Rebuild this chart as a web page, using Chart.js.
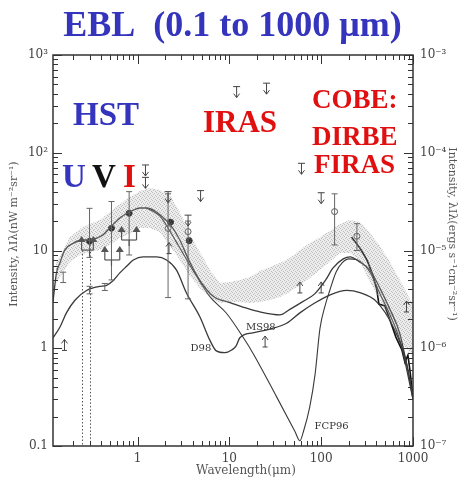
<!DOCTYPE html>
<html><head><meta charset="utf-8">
<script src="https://cdn.jsdelivr.net/npm/chart.js@4.4.0/dist/chart.umd.min.js"></script>
<style>html,body{margin:0;padding:0;background:#fff}#wrap{width:465px;height:481px;position:relative}</style>
</head><body><div id="wrap"><canvas id="c" width="465" height="481"></canvas></div>
<script>
// ---------------- data (wavelength in micron, intensity in nW m^-2 sr^-1) ----------------
const xTickValues = [1, 10, 100, 1000];
const xTickLabels = ['1', '10', '100', '1000'];
const yTickValues = [0.1, 1, 10, 100, 1000];
const yTickLabels = ['0.1', '1', '10', '10²', '10³'];
const y2TickValues = [1e-7, 1e-6, 1e-5, 1e-4, 1e-3];
const y2TickLabels = ['10⁻⁷', '10⁻⁶', '10⁻⁵', '10⁻⁴', '10⁻³'];

const bandWave  = [0.129,0.143,0.183,0.235,0.302,0.388,0.499,0.641,0.824,1.06,1.36,1.75,2.25,2.89,3.71,4.77,6.13,7.88,10.1,13.0,16.7,21.5,27.6,35.5,45.6,58.6,75.4,96.9,124,160,206,264,340,437,561,720,1000];
const bandUpper = [7.64,8.79,13.7,16.6,18.7,20.5,24.8,29.9,35.3,40.6,43.6,41.6,37.0,24.8,14.8,9.66,6.33,4.65,4.76,4.99,5.36,6.18,6.79,7.46,8.39,10.1,11.9,13.7,15.8,18.7,20.5,19.6,15.1,11.1,7.64,4.99,2.77];
const bandLower = [4.44,5.36,7.64,9.0,9.66,10.1,11.4,13.4,14.8,17.0,17.0,15.5,11.1,8.0,5.48,4.13,3.35,2.90,2.97,2.97,2.90,2.97,3.12,3.35,3.76,4.44,5.24,6.33,7.64,9.44,9.44,7.64,4.76,3.12,1.95,1.21,0.81];

const upperWave = [0.12,0.131,0.143,0.161,0.2,0.255,0.3,0.358,0.419,0.5,0.641,0.824,1.06,1.25,1.61,1.75,2.25,2.89,3.45,4.4,5.7,6.95,9.4,14,21.5,35.5,45.6,63,85,112,134,174,206,264,340,437,561,720,1000];
const upperInt  = [3.0,5.9,7.5,10.1,11.9,12.8,12.8,13.4,14.4,17.1,21.5,24.8,27.2,27.2,24.8,23.2,18.6,12.8,8.8,5.6,3.94,3.3,3.0,2.64,2.35,2.19,2.5,3.0,3.6,5.0,6.6,8.2,8.6,7.6,6.3,4.1,2.5,1.4,0.32];

const d98Wave = [0.12,0.143,0.168,0.208,0.278,0.388,0.46,0.54,0.641,0.76,0.9,1.15,1.61,2.07,2.66,3.4,4.77,6.13,7.2,8.9,10.6,11.8,13.0,18,27.6,42,58.6,85,124,190,264,400,610,850,1000];
const d98Int  = [1.28,1.65,2.3,3.1,3.9,4.3,4.4,4.9,5.9,6.9,8.0,8.6,8.6,8.0,6.3,3.7,2.1,1.21,0.94,0.90,0.96,1.05,1.28,1.44,1.57,1.8,2.3,2.9,3.5,3.9,3.7,3.0,1.65,0.71,0.30];

const fcp96Wave = [1.25,1.75,2.66,4.0,6.13,9.3,14,18.2,32.6,52,58.6,64,75,86,97,110,124,145,170,200,240,300,340,437,561,720,1000];
const fcp96Int  = [27.2,22.5,12.1,6.3,3.37,2.28,1.31,0.88,0.32,0.14,0.113,0.14,0.25,0.55,1.6,2.7,3.9,6.0,7.5,8.2,8.1,7.0,6.0,3.6,2.2,1.2,0.30];

const firasWave = [214,264,315,366,404,425,494,561,651,757,816,880,925,1000];
const firasInt  = [13.7,10.6,8.0,5.6,3.94,2.84,2.71,1.95,1.30,0.96,0.72,0.85,0.60,0.31];

const filledWave = [0.3, 0.52, 0.81, 2.29, 3.65];
const filledInt  = [12.4, 16.9, 24, 19.5, 12.6];
const openWave = [2.15, 3.55, 140, 245];
const openInt  = [16.8, 15.6, 25, 14];

const errWave = [0.3, 0.52, 0.81, 2.15, 3.55, 140, 245, 0.155, 0.3, 0.44];
const errLow  = [8.5, 5, 9, 3.3, 3.2, 11.4, 10, 4.7, 3.6, 3.9];
const errHigh = [27, 31.7, 40, 38, 20, 38, 18.8, 6.0, 4.3, 4.6];

const upperLimWave = [1.22, 1.22, 2.15, 3.55, 4.86, 12, 25.4, 61, 100];
const upperLimInt  = [75, 56, 40, 23, 41, 475, 515, 78, 39];

const lowerLimWave = [0.16, 2.2, 24.5, 58.6, 100, 850];
const lowerLimInt  = [0.95, 9.3, 1.03, 3.68, 3.68, 2.35];

const groupLeft   = [0.246, 0.44, 0.67];
const groupRight  = [0.33, 0.64, 0.975];
const groupCenter = [0.3, 0.52, 0.81];
const groupInt    = [10.1, 8.0, 12.8];

const dottedWave = [0.25, 0.3];
const dottedTop  = [10, 12.4];

const curveLabels = ['D98', 'MS98', 'FCP96'];
const curveLabelWave = [4.9, 22, 130];
const curveLabelInt  = [1.0, 1.65, 0.16];

// ---------------- helpers ----------------
const pts = (w, v) => w.map((x, i) => ({x: x, y: v[i]}));

const pc = document.createElement('canvas'); pc.width = 4; pc.height = 4;
const pctx = pc.getContext('2d');
pctx.fillStyle = 'rgba(175,175,175,0.22)'; pctx.fillRect(0, 0, 4, 4);
pctx.fillStyle = 'rgba(130,130,130,0.45)';
pctx.fillRect(0, 0, 1, 1); pctx.fillRect(2, 1, 1, 1); pctx.fillRect(1, 2, 1, 1); pctx.fillRect(3, 3, 1, 1);
const bandPattern = pctx.createPattern(pc, 'repeat');

function line(ctx, x1, y1, x2, y2) { ctx.beginPath(); ctx.moveTo(x1, y1); ctx.lineTo(x2, y2); ctx.stroke(); }

const decor = {
  id: 'decor',
  beforeDatasetsDraw(chart) {
    const ctx = chart.ctx, xs = chart.scales.x, ys = chart.scales.y;
    ctx.save();
    ctx.strokeStyle = '#555'; ctx.lineWidth = 1; ctx.setLineDash([1.5, 2]);
    dottedWave.forEach((w, i) => {
      const px = Math.round(xs.getPixelForValue(w)) + 0.5;
      line(ctx, px, ys.getPixelForValue(dottedTop[i]), px, chart.chartArea.bottom);
    });
    ctx.restore();
  },
  afterDatasetsDraw(chart) {
    const ctx = chart.ctx, xs = chart.scales.x, ys = chart.scales.y, a = chart.chartArea;
    const X = v => xs.getPixelForValue(v), Y = v => ys.getPixelForValue(v);
    ctx.save();
    // frame
    ctx.strokeStyle = '#333'; ctx.lineWidth = 1.5;
    ctx.strokeRect(a.left, a.top, a.right - a.left, a.bottom - a.top);
    // ticks
    ctx.lineWidth = 1;
    for (let k = -1; k <= 3; k++) for (let m = 1; m <= 9; m++) {
      const v = m * Math.pow(10, k);
      if (v >= 0.119 && v <= 1000.01) {
        const px = Math.round(X(v)) + 0.5, L = m === 1 ? 9 : 5;
        line(ctx, px, a.bottom, px, a.bottom - L); line(ctx, px, a.top, px, a.top + L);
      }
      if (v >= 0.0999 && v <= 1000.01) {
        const py = Math.round(Y(v)) + 0.5, L = m === 1 ? 9 : 5;
        line(ctx, a.left, py, a.left + L, py); line(ctx, a.right, py, a.right - L, py);
      }
    }
    // error bars
    ctx.strokeStyle = '#666'; ctx.lineWidth = 1;
    errWave.forEach((w, i) => {
      const px = X(w), y1 = Y(errLow[i]), y2 = Y(errHigh[i]);
      line(ctx, px, y1, px, y2); line(ctx, px - 3, y1, px + 3, y1); line(ctx, px - 3, y2, px + 3, y2);
    });
    // upper limits (cap + down arrow)
    ctx.strokeStyle = '#444';
    upperLimWave.forEach((w, i) => {
      const px = X(w), py = Y(upperLimInt[i]);
      line(ctx, px - 3.5, py, px + 3.5, py); line(ctx, px, py, px, py + 11);
      ctx.beginPath(); ctx.moveTo(px - 3, py + 7); ctx.lineTo(px, py + 11); ctx.lineTo(px + 3, py + 7); ctx.stroke();
    });
    // lower limits (base + up arrow)
    lowerLimWave.forEach((w, i) => {
      const px = X(w), py = Y(lowerLimInt[i]);
      line(ctx, px - 2.5, py, px + 2.5, py); line(ctx, px, py, px, py - 11);
      ctx.beginPath(); ctx.moveTo(px - 3, py - 7); ctx.lineTo(px, py - 11); ctx.lineTo(px + 3, py - 7); ctx.stroke();
    });
    // grouped lower limits
    ctx.strokeStyle = '#555'; ctx.fillStyle = '#555'; ctx.lineWidth = 1.2;
    groupLeft.forEach((w, i) => {
      const p1 = X(w), p2 = X(groupRight[i]), pc2 = X(groupCenter[i]), py = Y(groupInt[i]);
      line(ctx, p1, py, p2, py); line(ctx, pc2, py, pc2, py + 6);
      [p1, p2].forEach(p => {
        line(ctx, p, py, p, py - 9);
        ctx.beginPath(); ctx.moveTo(p - 4, py - 8); ctx.lineTo(p, py - 14); ctx.lineTo(p + 4, py - 8); ctx.closePath(); ctx.fill();
      });
    });
    // curve labels
    ctx.fillStyle = '#333'; ctx.font = '10px "DejaVu Serif"'; ctx.textAlign = 'center'; ctx.textBaseline = 'middle';
    curveLabels.forEach((t, i) => ctx.fillText(t, X(curveLabelWave[i]), Y(curveLabelInt[i])));
    // big annotations
    ctx.textAlign = 'left'; ctx.textBaseline = 'alphabetic';
    ctx.font = 'bold 33px "Liberation Serif"';
    ctx.fillStyle = '#3434bc'; ctx.fillText('HST', 73, 125);
    ctx.fillText('U', 62, 187);
    ctx.fillStyle = '#111'; ctx.fillText('V', 92, 187);
    ctx.fillStyle = '#e01010'; ctx.fillText('I', 123, 187);
    ctx.font = 'bold 31px "Liberation Serif"'; ctx.fillText('IRAS', 203, 132);
    ctx.font = 'bold 27px "Liberation Serif"';
    ctx.fillText('COBE:', 312, 108); ctx.fillText('DIRBE', 312, 145); ctx.fillText('FIRAS', 314, 173);
    // axis titles
    ctx.fillStyle = '#555'; ctx.font = '11px "DejaVu Serif"'; ctx.textAlign = 'center'; ctx.textBaseline = 'middle';
    ctx.save(); ctx.translate(14, 234); ctx.rotate(-Math.PI / 2);
    ctx.fillText('Intensity, λIλ(nW m⁻²sr⁻¹)', 0, 0); ctx.restore();
    ctx.save(); ctx.translate(452, 234); ctx.rotate(Math.PI / 2);
    ctx.fillText('Intensity, λIλ(ergs s⁻¹cm⁻²sr⁻¹)', 0, 0); ctx.restore();
    ctx.font = '12px "DejaVu Serif"';
    ctx.fillText('Wavelength(μm)', 246, 471);
    ctx.restore();
  }
};

const tickFont = {family: 'DejaVu Serif', size: 12};

new Chart(document.getElementById('c'), {
  type: 'line',
  data: {
    datasets: [
      {data: pts(bandWave, bandUpper), fill: '+1', backgroundColor: bandPattern, borderWidth: 0, pointRadius: 0},
      {data: pts(bandWave, bandLower), fill: false, borderWidth: 0, pointRadius: 0},
      {data: pts(upperWave, upperInt), borderColor: '#3a3a3a', borderWidth: 1.3, pointRadius: 0, fill: false, cubicInterpolationMode: 'monotone'},
      {data: pts(d98Wave, d98Int), borderColor: '#3a3a3a', borderWidth: 1.3, pointRadius: 0, fill: false, cubicInterpolationMode: 'monotone'},
      {data: pts(fcp96Wave, fcp96Int), borderColor: '#3a3a3a', borderWidth: 1.1, pointRadius: 0, fill: false, cubicInterpolationMode: 'monotone'},
      {data: pts(firasWave, firasInt), borderColor: '#111', borderWidth: 1.6, pointRadius: 0, fill: false},
      {data: pts(filledWave, filledInt), showLine: false, pointRadius: 3, pointBackgroundColor: '#111', pointBorderColor: '#111'},
      {data: pts(openWave, openInt), showLine: false, pointRadius: 3, pointBackgroundColor: '#fff', pointBorderColor: '#555', pointBorderWidth: 1}
    ]
  },
  options: {
    responsive: false, animation: false, devicePixelRatio: 1,
    layout: {padding: 0},
    plugins: {
      legend: {display: false}, tooltip: {enabled: false},
      title: {display: true, text: 'EBL  (0.1 to 1000 μm)', color: '#3434bc',
              font: {family: 'Liberation Serif', size: 36, weight: 'bold'}, padding: {top: 5, bottom: 6.8}}
    },
    scales: {
      x: {type: 'logarithmic', position: 'bottom', min: 0.12, max: 1000,
          grid: {display: false, drawTicks: false}, border: {display: false},
          afterBuildTicks: s => { s.ticks = xTickValues.map(v => ({value: v})); },
          afterFit: s => { s.height = 35; },
          ticks: {autoSkip: false, maxRotation: 0, padding: 6, color: '#444', font: tickFont,
                  callback: (v, i) => xTickLabels[i]}},
      y: {type: 'logarithmic', position: 'left', min: 0.1, max: 1000,
          grid: {display: false, drawTicks: false}, border: {display: false},
          afterBuildTicks: s => { s.ticks = yTickValues.map(v => ({value: v})); },
          afterFit: s => { s.width = 53; },
          ticks: {autoSkip: false, padding: 5, color: '#444', font: tickFont,
                  callback: (v, i) => yTickLabels[i]}},
      y2: {type: 'logarithmic', position: 'right', min: 1e-7, max: 1e-3,
          grid: {display: false, drawTicks: false}, border: {display: false},
          afterBuildTicks: s => { s.ticks = y2TickValues.map(v => ({value: v})); },
          afterFit: s => { s.width = 52; },
          ticks: {autoSkip: false, padding: 7, color: '#444', font: tickFont,
                  callback: (v, i) => y2TickLabels[i]}}
    }
  },
  plugins: [decor]
});
</script></body></html>
